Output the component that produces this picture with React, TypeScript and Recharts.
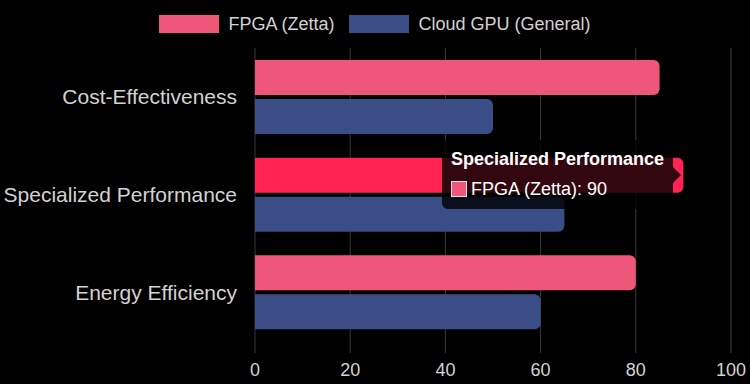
import React from 'react';
import {
  BarChart,
  Bar,
  XAxis,
  YAxis,
  CartesianGrid,
  Tooltip,
  Legend,
  Cell,
} from 'recharts';

const categories = ['Cost-Effectiveness', 'Specialized Performance', 'Energy Efficiency'];
const fpgaValues = [85, 90, 80];
const gpuValues = [50, 65, 60];
const xTicks = [0, 20, 40, 60, 80, 100];
const seriesNames = ['FPGA (Zetta)', 'Cloud GPU (General)'];
const activeIndex = 1;

const FONT = '"Liberation Sans", Arial, Helvetica, sans-serif';
const TEXT = '#d2d2d2';
const PINK = '#EF577A';
const PINK_HOVER = '#FF2453';
const BLUE = '#3A4D86';
const GRID = '#3a3a3a';

const data = categories.map((name, i) => ({
  name,
  fpga: fpgaValues[i],
  gpu: gpuValues[i],
}));

const LegendContent = (props: any) => {
  const payload = [...(props.payload || [])].sort(
    (a: any, b: any) => seriesNames.indexOf(a.value) - seriesNames.indexOf(b.value)
  );
  return (
    <div
      style={{
        height: 48,
        display: 'flex',
        justifyContent: 'center',
        alignItems: 'flex-start',
        paddingTop: 15,
        boxSizing: 'border-box',
        fontFamily: FONT,
        fontSize: 18,
        color: TEXT,
      }}
    >
      {payload.map((p: any, i: number) => (
        <div
          key={i}
          style={{ display: 'flex', alignItems: 'center', marginLeft: i === 0 ? 0 : 15, height: 18 }}
        >
          <span style={{ display: 'inline-block', width: 60, height: 18, background: p.color, marginRight: 9 }} />
          <span style={{ lineHeight: '18px', whiteSpace: 'nowrap' }}>{p.value}</span>
        </div>
      ))}
    </div>
  );
};

const TooltipContent = (props: any) => {
  const { active, payload, label } = props;
  if (!active || !payload || !payload.length) return null;
  const item = payload.find((p: any) => p.dataKey === 'fpga') || payload[0];
  return (
    <div
      style={{
        position: 'relative',
        background: 'rgba(0,0,0,0.8)',
        borderRadius: 6,
        padding: '9px 9px',
        fontFamily: FONT,
        color: '#fff',
        whiteSpace: 'nowrap',
      }}
    >
      <div style={{ fontWeight: 'bold', fontSize: 18, lineHeight: '21.6px', marginBottom: 8 }}>{label}</div>
      <div style={{ display: 'flex', alignItems: 'center', fontSize: 18, lineHeight: '21.6px' }}>
        <span
          style={{
            display: 'inline-block',
            width: 16,
            height: 16,
            boxSizing: 'border-box',
            border: '1.5px solid #e6e6e6',
            background: PINK,
            marginRight: 4,
          }}
        />
        <span>
          {item.name}: {item.value}
        </span>
      </div>
      <div
        style={{
          position: 'absolute',
          right: -8,
          top: '50%',
          marginTop: -8,
          width: 0,
          height: 0,
          borderTop: '8px solid transparent',
          borderBottom: '8px solid transparent',
          borderLeft: '8px solid rgba(0,0,0,0.8)',
        }}
      />
    </div>
  );
};

export default function App() {
  if (typeof document !== 'undefined') {
    document.body.style.background = '#000';
  }
  return (
    <div style={{ position: 'absolute', left: 0, top: 0, width: 750, height: 384, background: '#000' }}>
      <BarChart
        width={750}
        height={384}
        data={data}
        layout="vertical"
        margin={{ top: 0, right: 19, bottom: 0, left: 0 }}
        barGap={4}
        barSize={35}
      >
        <CartesianGrid horizontal={false} stroke={GRID} />
        <XAxis
          type="number"
          domain={[0, 100]}
          ticks={xTicks}
          height={43}
          axisLine={false}
          tickLine={{ stroke: GRID }}
          tickSize={12}
          tickMargin={10}
          tick={{ fill: TEXT, fontSize: 18, fontFamily: FONT }}
        />
        <YAxis
          type="category"
          dataKey="name"
          width={255}
          axisLine={false}
          tickLine={false}
          tickSize={0}
          tickMargin={18}
          tick={{ fill: TEXT, fontSize: 21, fontFamily: FONT }}
        />
        <Legend
          verticalAlign="top"
          align="center"
          content={<LegendContent />}
          wrapperStyle={{ top: 0, left: 0, width: 750, height: 48 }}
        />
        <Tooltip
          content={<TooltipContent />}
          defaultIndex={activeIndex}
          active={true}
          cursor={false}
          position={{ x: 442, y: 140 }}
          isAnimationActive={false}
          wrapperStyle={{ outline: 'none' }}
        />
        <Bar
          dataKey="fpga"
          name={seriesNames[0]}
          fill={PINK}
          radius={[0, 6, 6, 0]}
          isAnimationActive={false}
          activeBar={false}
        >
          {data.map((_, i) => (
            <Cell key={i} fill={i === activeIndex ? PINK_HOVER : PINK} />
          ))}
        </Bar>
        <Bar
          dataKey="gpu"
          name={seriesNames[1]}
          fill={BLUE}
          radius={[0, 6, 6, 0]}
          isAnimationActive={false}
          activeBar={false}
        />
      </BarChart>
    </div>
  );
}
